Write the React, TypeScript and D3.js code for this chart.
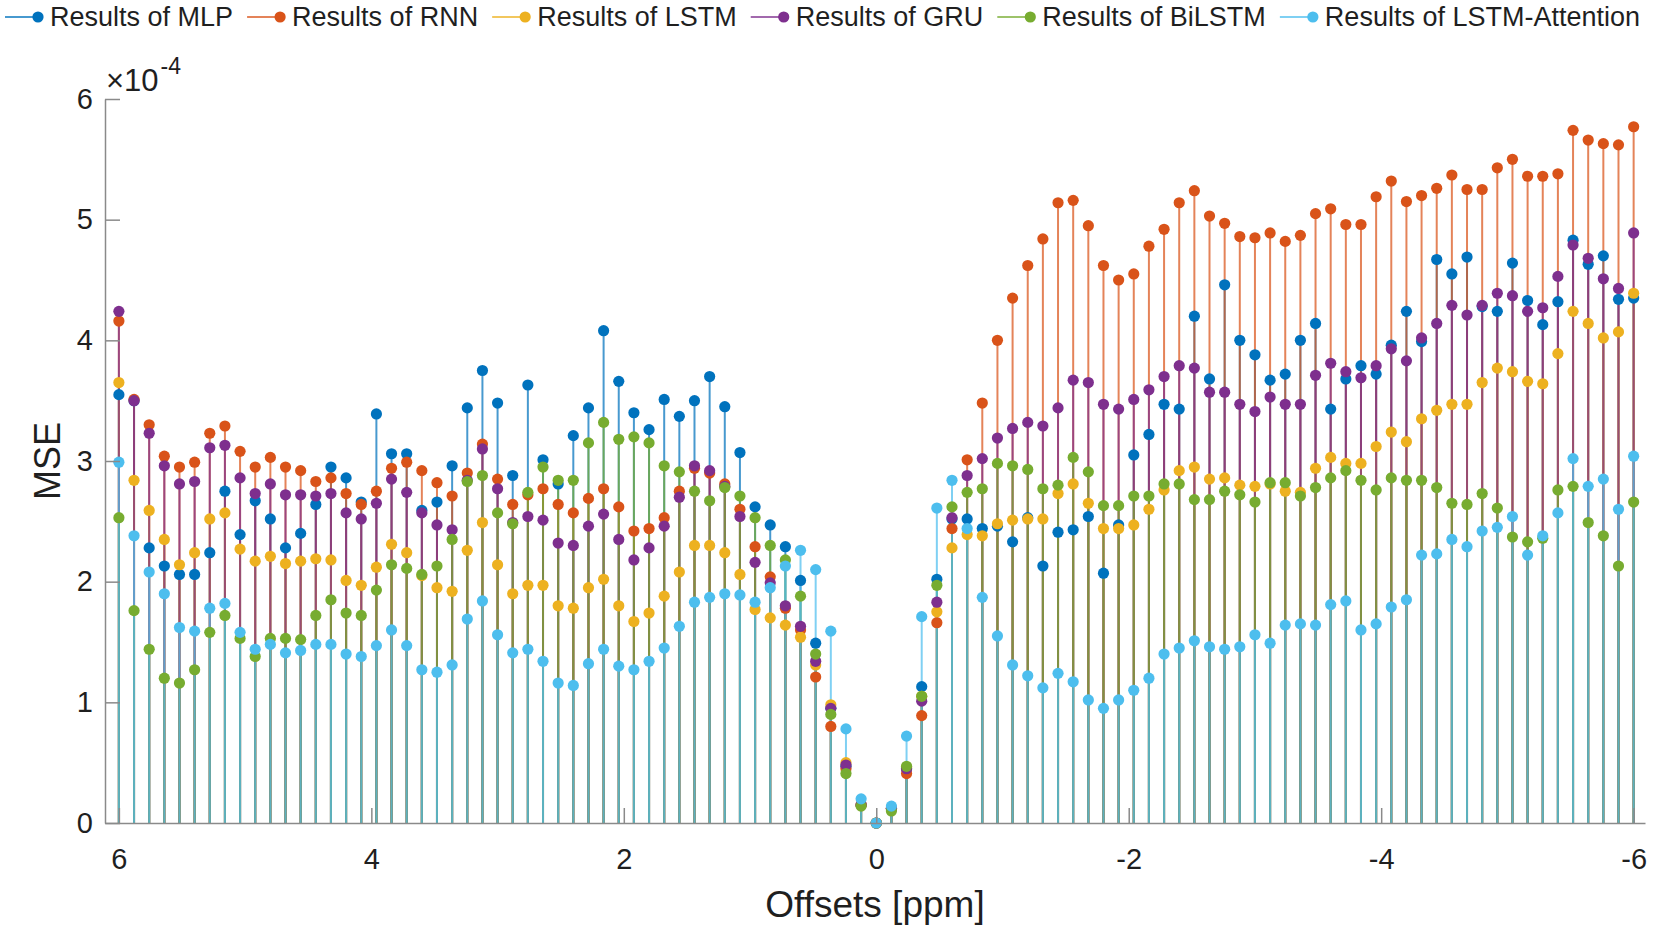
import { useEffect, useRef } from "react";
import * as d3 from "d3";

const width = 1653;
const height = 931;
const margin = { top: 99, right: 8, bottom: 108, left: 105 };

// offsets sampled from 6 to -6 ppm in 101 steps
const offsets = d3.range(101).map((i) => +(6 - 0.12 * i).toFixed(2));

// MSE values, in units of 1e-4
const mlp = [
  3.55, 3.5, 2.28, 2.13, 2.06, 2.06, 2.24, 2.75, 2.39, 2.67,
  2.52, 2.28, 2.4, 2.64, 2.95, 2.86, 2.66, 3.39, 3.06, 3.06,
  2.59, 2.66, 2.96, 3.44, 3.75, 3.48, 2.88, 3.63, 3.01, 2.81,
  3.21, 3.44, 4.08, 3.66, 3.4, 3.26, 3.51, 3.37, 3.5, 3.7,
  3.45, 3.07, 2.62, 2.47, 2.29, 2.01, 1.49, 0.95, 0.47, 0.15,
  0, 0.12, 0.45, 1.13, 2.02, 2.52, 2.52, 2.44, 2.46, 2.33,
  2.53, 2.13, 2.41, 2.43, 2.54, 2.07, 2.47, 3.05, 3.22, 3.47,
  3.43, 4.2, 3.68, 4.46, 4.0, 3.88, 3.67, 3.72, 4.0, 4.14,
  3.43, 3.68, 3.79, 3.72, 3.96, 4.24, 3.99, 4.67, 4.55, 4.69,
  4.28, 4.24, 4.64, 4.33, 4.13, 4.32, 4.83, 4.63, 4.7, 4.34, 4.35,
];
const rnn = [
  4.16, 3.51, 3.3, 3.04, 2.95, 2.99, 3.23, 3.29, 3.08, 2.95,
  3.03, 2.95, 2.92, 2.83, 2.86, 2.73, 2.64, 2.75, 2.94, 2.99,
  2.92, 2.82, 2.71, 2.9, 3.14, 2.85, 2.64, 2.72, 2.77, 2.64,
  2.57, 2.69, 2.77, 2.62, 2.42, 2.44, 2.53, 2.75, 2.94, 2.9,
  2.81, 2.6, 2.29, 2.04, 1.78, 1.6, 1.21, 0.8, 0.45, 0.15,
  0, 0.12, 0.41, 0.89, 1.66, 2.44, 3.01, 3.48, 4.0, 4.35,
  4.62, 4.84, 5.14, 5.16, 4.95, 4.62, 4.5, 4.55, 4.78, 4.92,
  5.14, 5.24, 5.03, 4.97, 4.86, 4.85, 4.89, 4.82, 4.87, 5.05,
  5.09, 4.96, 4.96, 5.19, 5.32, 5.15, 5.2, 5.26, 5.37, 5.25,
  5.25, 5.43, 5.5, 5.36, 5.36, 5.38, 5.74, 5.66, 5.63, 5.62, 5.77,
];
const lstm = [
  3.65, 2.84, 2.59, 2.35, 2.14, 2.24, 2.52, 2.57, 2.27, 2.17,
  2.21, 2.15, 2.17, 2.19, 2.18, 2.01, 1.97, 2.12, 2.31, 2.24,
  2.05, 1.95, 1.92, 2.26, 2.49, 2.14, 1.9, 1.97, 1.97, 1.8,
  1.78, 1.95, 2.02, 1.8, 1.67, 1.74, 1.88, 2.08, 2.3, 2.3,
  2.24, 2.06, 1.77, 1.7, 1.64, 1.54, 1.31, 0.98, 0.5, 0.15,
  0, 0.12, 0.46, 1.05, 1.75, 2.28, 2.39, 2.38, 2.48, 2.51,
  2.52, 2.52, 2.73, 2.81, 2.65, 2.44, 2.44, 2.47, 2.6, 2.76,
  2.92, 2.95, 2.85, 2.86, 2.8, 2.79, 2.81, 2.75, 2.74, 2.94,
  3.03, 2.98, 2.98, 3.12, 3.24, 3.16, 3.35, 3.42, 3.47, 3.47,
  3.65, 3.77, 3.74, 3.66, 3.64, 3.89, 4.24, 4.14, 4.02, 4.07, 4.39,
];
const gru = [
  4.24, 3.5, 3.23, 2.96, 2.81, 2.83, 3.11, 3.13, 2.86, 2.73,
  2.81, 2.72, 2.72, 2.71, 2.73, 2.57, 2.52, 2.65, 2.85, 2.74,
  2.57, 2.47, 2.43, 2.84, 3.1, 2.77, 2.49, 2.54, 2.51, 2.32,
  2.3, 2.46, 2.56, 2.35, 2.18, 2.28, 2.46, 2.7, 2.96, 2.92,
  2.79, 2.54, 2.16, 1.99, 1.8, 1.63, 1.34, 0.95, 0.48, 0.15,
  0, 0.12, 0.45, 1.01, 1.83, 2.53, 2.88, 3.02, 3.19, 3.27,
  3.32, 3.29, 3.44, 3.67, 3.65, 3.47, 3.43, 3.51, 3.59, 3.7,
  3.79, 3.77, 3.57, 3.57, 3.47, 3.41, 3.53, 3.47, 3.47, 3.71,
  3.81, 3.74, 3.69, 3.79, 3.93, 3.83, 4.02, 4.14, 4.29, 4.21,
  4.29, 4.39, 4.37, 4.24, 4.27, 4.53, 4.79, 4.68, 4.51, 4.43, 4.89,
];
const bilstm = [
  2.53, 1.76, 1.44, 1.2, 1.16, 1.27, 1.58, 1.72, 1.53, 1.38,
  1.53, 1.53, 1.52, 1.72, 1.85, 1.74, 1.72, 1.93, 2.14, 2.11,
  2.06, 2.13, 2.35, 2.83, 2.88, 2.57, 2.48, 2.74, 2.95, 2.84,
  2.84, 3.15, 3.32, 3.18, 3.2, 3.15, 2.96, 2.91, 2.75, 2.67,
  2.78, 2.71, 2.53, 2.3, 2.18, 1.88, 1.4, 0.9, 0.41, 0.14,
  0, 0.1, 0.47, 1.05, 1.97, 2.62, 2.74, 2.77, 2.98, 2.96,
  2.93, 2.77, 2.8, 3.03, 2.91, 2.63, 2.63, 2.71, 2.71, 2.81,
  2.81, 2.68, 2.68, 2.75, 2.72, 2.66, 2.82, 2.82, 2.71, 2.78,
  2.86, 2.92, 2.84, 2.76, 2.86, 2.84, 2.84, 2.78, 2.65, 2.64,
  2.73, 2.61, 2.37, 2.33, 2.36, 2.76, 2.79, 2.49, 2.38, 2.13, 2.66,
];
const attention = [
  2.99, 2.38, 2.08, 1.9, 1.62, 1.59, 1.78, 1.82, 1.58, 1.44,
  1.48, 1.41, 1.43, 1.48, 1.48, 1.4, 1.38, 1.47, 1.6, 1.47,
  1.27, 1.25, 1.31, 1.69, 1.84, 1.56, 1.41, 1.44, 1.34, 1.16,
  1.14, 1.32, 1.44, 1.3, 1.27, 1.34, 1.45, 1.63, 1.83, 1.87,
  1.9, 1.89, 1.83, 1.95, 2.13, 2.26, 2.1, 1.59, 0.78, 0.2,
  0, 0.14, 0.72, 1.71, 2.61, 2.84, 2.44, 1.87, 1.55, 1.31,
  1.22, 1.12, 1.24, 1.17, 1.02, 0.95, 1.02, 1.1, 1.2, 1.4,
  1.45, 1.51, 1.46, 1.44, 1.46, 1.56, 1.49, 1.64, 1.65, 1.64,
  1.81, 1.84, 1.6, 1.65, 1.79, 1.85, 2.22, 2.23, 2.35, 2.29,
  2.42, 2.45, 2.54, 2.22, 2.38, 2.57, 3.02, 2.79, 2.85, 2.6, 3.04,
];

const seriesNames = [
  "Results of MLP",
  "Results of RNN",
  "Results of LSTM",
  "Results of GRU",
  "Results of BiLSTM",
  "Results of LSTM-Attention",
];
const seriesValues = [mlp, rnn, lstm, gru, bilstm, attention];
const colors = ["#0072BD", "#D95319", "#EDB120", "#7E2F8E", "#77AC30", "#4DBEEE"];

const xTicks = [6, 4, 2, 0, -2, -4, -6];
const yTicks = [0, 1, 2, 3, 4, 5, 6];

const font = '"Liberation Sans", Arial, Helvetica, sans-serif';
const axisColor = "#8a8a8a";
const textColor = "#1f1f1f";
const markerR = 5.6;

const x = d3.scaleLinear().domain([6.11, -6.09]).range([margin.left, width - margin.right]);
const y = d3.scaleLinear().domain([0, 6]).range([height - margin.bottom, margin.top]);

const measureCtx = document.createElement("canvas").getContext("2d");
const textWidth = (s, size) => {
  measureCtx.font = `${size}px ${font}`;
  return measureCtx.measureText(s).width;
};

const App = () => {
  const xAxisRef = useRef(null);
  const yAxisRef = useRef(null);

  useEffect(() => {
    const styleAxis = (g) => {
      g.select(".domain").attr("stroke", axisColor).attr("stroke-width", 1.5);
      g.selectAll(".tick line").attr("stroke", axisColor).attr("stroke-width", 1.5);
      g.selectAll(".tick text")
        .attr("fill", textColor)
        .attr("font-size", 29)
        .attr("font-family", font);
    };
    d3.select(xAxisRef.current)
      .call(
        d3.axisBottom(x)
          .tickValues(xTicks)
          .tickFormat((d) => `${d}`)
          .tickSizeInner(-15)
          .tickSizeOuter(0)
          .tickPadding(25)
      )
      .call(styleAxis);
    d3.select(yAxisRef.current)
      .call(
        d3.axisLeft(y)
          .tickValues(yTicks)
          .tickFormat(d3.format("d"))
          .tickSizeInner(-15)
          .tickSizeOuter(0)
          .tickPadding(12)
      )
      .call(styleAxis);
  }, []);

  // legend layout from text widths
  const legendSize = 27;
  const legendRight = 1640;
  const names = seriesNames.map((n) => textWidth(n, legendSize));
  const legendGap =
    (legendRight - 5 - d3.sum(names) - 45 * names.length) / (names.length - 1);
  let cursor = 5;
  const legendItems = seriesNames.map((name, k) => {
    const x0 = cursor;
    cursor += 45 + names[k] + legendGap;
    return { name, color: colors[k], x0 };
  });

  return (
    <svg
      width={width}
      height={height}
      style={{ position: "absolute", left: 0, top: 0, background: "#fff" }}
      fontFamily={font}
    >
      <rect width={width} height={height} fill="#fff" />

      {/* stems */}
      {seriesValues.map((vals, k) => (
        <g key={`s${k}`} stroke={colors[k]} strokeWidth={2} strokeOpacity={0.72}>
          {vals.map((v, i) => (
            <line key={i} x1={x(offsets[i])} x2={x(offsets[i])} y1={y(0)} y2={y(v)} />
          ))}
        </g>
      ))}

      {/* markers */}
      {seriesValues.map((vals, k) => (
        <g key={`m${k}`} fill={colors[k]}>
          {vals.map((v, i) => (
            <circle key={i} cx={x(offsets[i])} cy={y(v)} r={markerR} />
          ))}
        </g>
      ))}

      <g ref={xAxisRef} transform={`translate(0, ${y(0)})`} />
      <g ref={yAxisRef} transform={`translate(${margin.left}, 0)`} />

      <text x={106} y={91} fontSize={31} fill={textColor}>
        ×10<tspan dx={2} dy={-17} fontSize={23}>-4</tspan>
      </text>

      <text
        x={(margin.left + width - margin.right) / 2}
        y={917}
        textAnchor="middle"
        fontSize={37}
        fill={textColor}
      >
        Offsets [ppm]
      </text>
      <text
        transform={`translate(60, ${(y(0) + y(6)) / 2}) rotate(-90)`}
        textAnchor="middle"
        fontSize={36}
        fill={textColor}
      >
        MSE
      </text>

      {/* legend */}
      {legendItems.map((d) => (
        <g key={d.name} transform={`translate(${d.x0}, 17)`}>
          <line x1={0} x2={36} y1={0} y2={0} stroke={d.color} strokeWidth={2} strokeOpacity={0.72} />
          <circle cx={33} cy={0} r={markerR} fill={d.color} />
          <text x={45} y={0} dy="0.35em" fontSize={legendSize} fill={textColor}>
            {d.name}
          </text>
        </g>
      ))}
    </svg>
  );
};

export default App;
